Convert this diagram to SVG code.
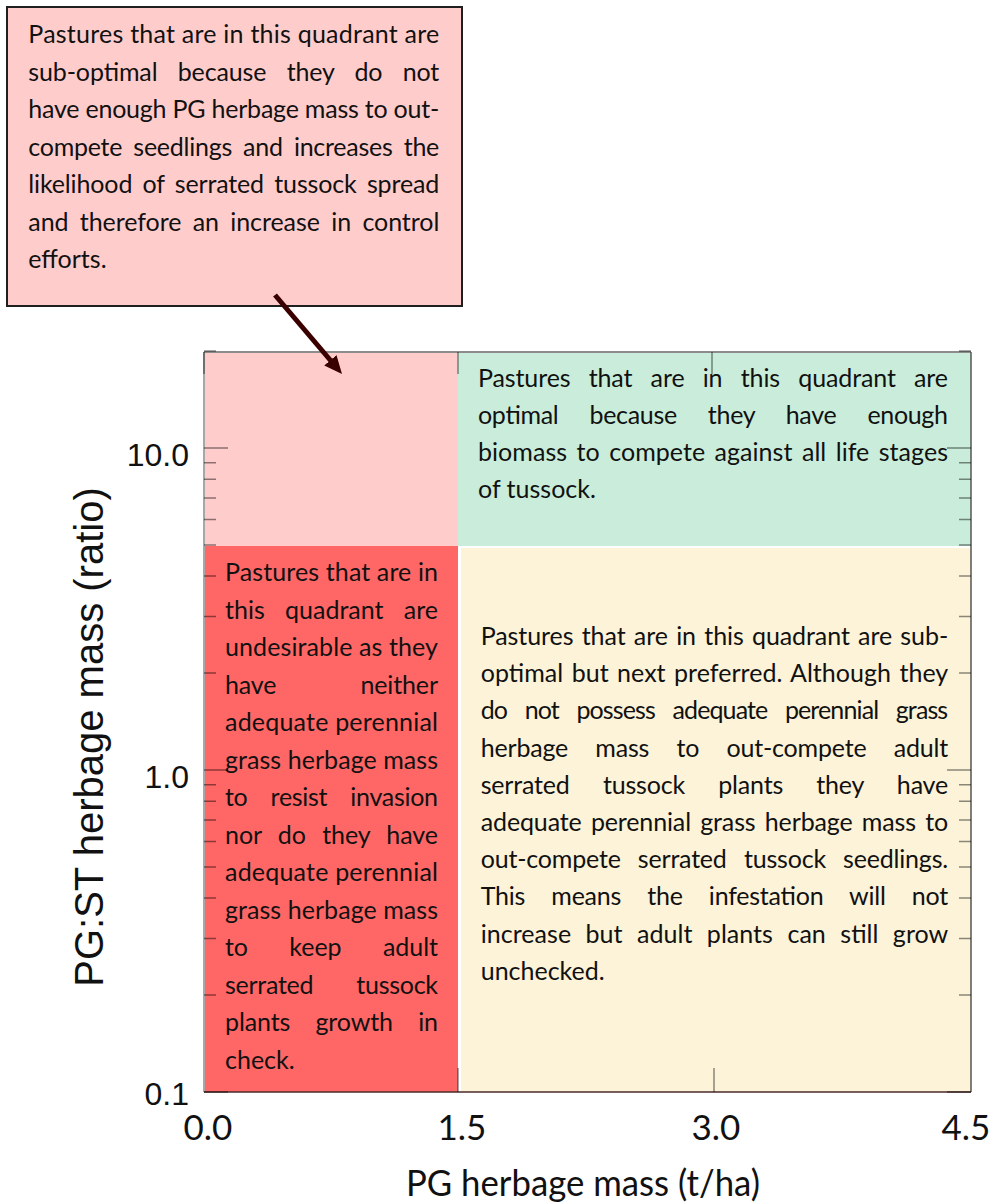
<svg xmlns="http://www.w3.org/2000/svg" width="999" height="1203" viewBox="0 0 999 1203">
<style>
.t{font-family:Lato,"Open Sans","Liberation Sans",sans-serif;font-size:25px;fill:#111}
.ax{font-family:"Liberation Sans",Arial,sans-serif;font-size:32px;fill:#111}
.xl{font-family:Lato,"Open Sans","Liberation Sans",sans-serif;font-size:35px;fill:#111}
.tk{stroke:#000;stroke-opacity:0.45;stroke-width:1.5;fill:none}
</style>
<defs>
<marker id="ah" markerUnits="userSpaceOnUse" viewBox="0 0 18 16" markerWidth="18" markerHeight="16" refX="1" refY="8" orient="auto">
<path d="M0,0 L18,8 L0,16 z" fill="#3a0000"/>
</marker>
</defs>
<rect width="999" height="1203" fill="#fff"/>

<g id="quadrant-top-left">
<rect x="205" y="353" width="253" height="193" fill="#FFCCCC"/>
</g>
<g id="quadrant-top-right">
<rect x="458" y="353" width="513" height="193" fill="#C9EDDA"/>
<text class="t" x="478" y="387" textLength="470" lengthAdjust="spacing" style="word-spacing:12px">Pastures that are in this quadrant are</text>
<text class="t" x="478" y="424" textLength="470" lengthAdjust="spacing" style="word-spacing:25px">optimal because they have enough</text>
<text class="t" x="478" y="461" textLength="470" lengthAdjust="spacing" style="word-spacing:3px">biomass to compete against all life stages</text>
<text class="t" x="478" y="498">of tussock.</text>
</g>
<g id="quadrant-bottom-left">
<rect x="205" y="546" width="253" height="546" fill="#FF6666"/>
<text class="t" x="225" y="581" textLength="213" lengthAdjust="spacing">Pastures that are in</text>
<text class="t" x="225" y="618.5" textLength="213" lengthAdjust="spacing" style="word-spacing:14px">this quadrant are</text>
<text class="t" x="225" y="656" textLength="213" lengthAdjust="spacing">undesirable as they</text>
<text class="t" x="225" y="693.5" textLength="213" lengthAdjust="spacing" style="word-spacing:78px">have neither</text>
<text class="t" x="225" y="731" textLength="213" lengthAdjust="spacing">adequate perennial</text>
<text class="t" x="225" y="768.5" textLength="213" lengthAdjust="spacing">grass herbage mass</text>
<text class="t" x="225" y="806" textLength="213" lengthAdjust="spacing" style="word-spacing:17px">to resist invasion</text>
<text class="t" x="225" y="843.5" textLength="213" lengthAdjust="spacing" style="word-spacing:10px">nor do they have</text>
<text class="t" x="225" y="881" textLength="213" lengthAdjust="spacing">adequate perennial</text>
<text class="t" x="225" y="918.5" textLength="213" lengthAdjust="spacing">grass herbage mass</text>
<text class="t" x="225" y="956" textLength="213" lengthAdjust="spacing" style="word-spacing:35px">to keep adult</text>
<text class="t" x="225" y="993.5" textLength="213" lengthAdjust="spacing" style="word-spacing:37px">serrated tussock</text>
<text class="t" x="225" y="1031" textLength="213" lengthAdjust="spacing" style="word-spacing:19px">plants growth in</text>
<text class="t" x="225" y="1068.5">check.</text>
</g>
<g id="quadrant-bottom-right">
<rect x="461" y="548" width="510" height="544" fill="#FCF3D9"/>
<text class="t" x="480.7" y="645" textLength="467.5" lengthAdjust="spacing" style="word-spacing:2px">Pastures that are in this quadrant are sub-</text>
<text class="t" x="480.7" y="682.2" textLength="467.5" lengthAdjust="spacing" style="word-spacing:2px">optimal but next preferred. Although they</text>
<text class="t" x="480.7" y="719.4" textLength="467.5" lengthAdjust="spacing" style="word-spacing:12px">do not possess adequate perennial grass</text>
<text class="t" x="480.7" y="756.6" textLength="467.5" lengthAdjust="spacing" style="word-spacing:21px">herbage mass to out-compete adult</text>
<text class="t" x="480.7" y="793.8" textLength="467.5" lengthAdjust="spacing" style="word-spacing:27px">serrated tussock plants they have</text>
<text class="t" x="480.7" y="831" textLength="467.5" lengthAdjust="spacing" style="word-spacing:3px">adequate perennial grass herbage mass to</text>
<text class="t" x="480.7" y="868.2" textLength="467.5" lengthAdjust="spacing" style="word-spacing:11px">out-compete serrated tussock seedlings.</text>
<text class="t" x="480.7" y="905.4" textLength="467.5" lengthAdjust="spacing" style="word-spacing:20px">This means the infestation will not</text>
<text class="t" x="480.7" y="942.6" textLength="467.5" lengthAdjust="spacing" style="word-spacing:8px">increase but adult plants can still grow</text>
<text class="t" x="480.7" y="979.8">unchecked.</text>
</g>

<g id="axes">
<line x1="204" y1="352" x2="204" y2="1092" stroke="#8a8a8a" stroke-width="1.5"/>
<line x1="204" y1="352" x2="971" y2="352" stroke="#666" stroke-width="1.5"/>
<line x1="971" y1="352" x2="971" y2="1092" stroke="#555" stroke-width="1.5"/>
<line x1="204" y1="1092" x2="971" y2="1092" stroke="#4a2a2a" stroke-width="1.5"/>
<path class="tk" d="M204,448h24M204,770h24M204,1092h24M204,351h12M204,462.7h12M204,479.2h12M204,497.9h12M204,519.4h12M204,544.9h12M204,576.1h12M204,616.4h12M204,673.1h12M204,784.7h12M204,801.2h12M204,819.9h12M204,841.4h12M204,866.9h12M204,898.1h12M204,938.4h12M204,995.1h12"/>
<path class="tk" d="M971,448h-24M971,770h-24M971,1092h-24M971,351h-12M971,462.7h-12M971,479.2h-12M971,497.9h-12M971,519.4h-12M971,544.9h-12M971,576.1h-12M971,616.4h-12M971,673.1h-12M971,784.7h-12M971,801.2h-12M971,819.9h-12M971,841.4h-12M971,866.9h-12M971,898.1h-12M971,938.4h-12M971,995.1h-12"/>
<path class="tk" d="M204,352v22M458,352v22M712,352v22M458,1092v-24M714,1092v-24"/>
<text class="ax" x="189" y="466" text-anchor="end">10.0</text>
<text class="ax" x="189" y="788" text-anchor="end">1.0</text>
<text class="ax" x="189" y="1105" text-anchor="end">0.1</text>
<text class="xl" x="208" y="1140" text-anchor="middle">0.0</text>
<text class="xl" x="462" y="1140" text-anchor="middle">1.5</text>
<text class="xl" x="716" y="1140" text-anchor="middle">3.0</text>
<text class="xl" x="966" y="1140" text-anchor="middle">4.5</text>
<text class="xl" x="406" y="1196" textLength="354" lengthAdjust="spacingAndGlyphs" style="font-size:36px">PG herbage mass (t/ha)</text>
<text x="0" y="0" transform="translate(103,737) rotate(-90)" text-anchor="middle" style="font-family:'Liberation Sans',Arial,sans-serif;font-size:40px;fill:#111">PG:ST herbage mass (ratio)</text>
</g>

<g id="callout">
<rect x="7" y="7" width="455" height="299" fill="#FFCCCC" stroke="#1f1f1f" stroke-width="2"/>
<text class="t" x="28.3" y="43.3" textLength="411" lengthAdjust="spacing">Pastures that are in this quadrant are</text>
<text class="t" x="28.3" y="80.75" textLength="411" lengthAdjust="spacing" style="word-spacing:14px">sub-optimal because they do not</text>
<text class="t" x="28.3" y="118.2" textLength="411" lengthAdjust="spacing">have enough PG herbage mass to out-</text>
<text class="t" x="28.3" y="155.65" textLength="411" lengthAdjust="spacing" style="word-spacing:5px">compete seedlings and increases the</text>
<text class="t" x="28.3" y="193.1" textLength="411" lengthAdjust="spacing" style="word-spacing:4px">likelihood of serrated tussock spread</text>
<text class="t" x="28.3" y="230.55" textLength="411" lengthAdjust="spacing" style="word-spacing:5px">and therefore an increase in control</text>
<text class="t" x="28.3" y="268">efforts.</text>
</g>

<g id="connectors">
<line x1="275" y1="295" x2="331" y2="361" stroke="#3a0000" stroke-width="5" marker-end="url(#ah)"/>
</g>
</svg>
